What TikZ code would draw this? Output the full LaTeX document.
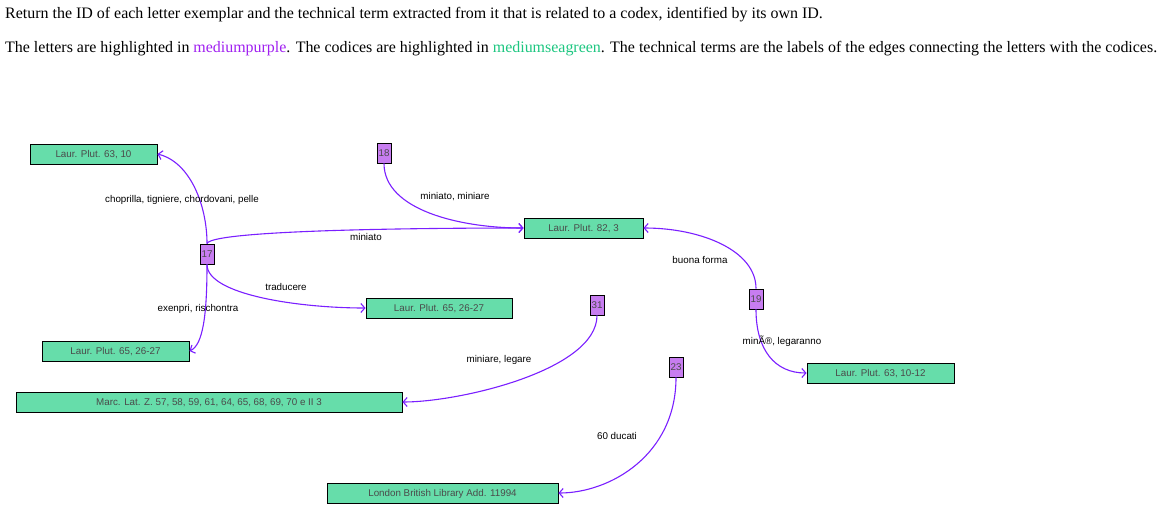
\documentclass[tikz,border=0pt]{standalone}
\usepackage{fontspec}
\setmainfont{Liberation Serif}
\newfontfamily\arial{Liberation Sans}
\usetikzlibrary{arrows.meta}
\definecolor{codexfill}{HTML}{66DDAA}
\definecolor{letterfill}{HTML}{C77DF0}
\definecolor{edgecol}{HTML}{7A1FFF}
\definecolor{purpletxt}{HTML}{A020F0}
\definecolor{greentxt}{HTML}{1CC680}
\definecolor{nodetxt}{HTML}{4A4A4A}
\begin{document}
\begin{tikzpicture}[x=1pt,y=-1pt,
  codex/.style={draw=black,line width=0.9pt,fill=codexfill,inner sep=0pt,minimum height=20pt,text height=7pt,text depth=0pt,text=nodetxt,font=\arial\fontsize{9.8}{11}\selectfont},
  letter/.style={draw=black,line width=0.9pt,fill=letterfill,inner sep=0pt,minimum width=14pt,minimum height=20pt,text height=7pt,text depth=0pt,text=nodetxt,font=\arial\fontsize{9.8}{11}\selectfont},
  elabel/.style={inner sep=0pt,font=\arial\fontsize{9.8}{11}\selectfont},
  edge/.style={draw=edgecol,line width=1.1pt,-{Straight Barb[length=4pt,width=9pt,line width=1.1pt]}},
  title/.style={anchor=base west,inner sep=0pt,font=\fontsize{15.95}{18}\selectfont}]
\useasboundingbox (0,0) rectangle (1162,520);
\node[title] (t1) at (5,18.5) {Return the ID of each letter exemplar and the technical term extracted from it that is related to a codex, identified by its own ID.};
\node[title] (t2) at (5,52) {The letters are highlighted in \textcolor{purpletxt}{mediumpurple}. The codices are highlighted in \textcolor{greentxt}{mediumseagreen}. The technical terms are the labels of the edges connecting the letters with the codices.};
% codices
\node[codex,minimum width=127pt] (c6310) at (93.5,154) {Laur. Plut. 63, 10};
\node[codex,minimum width=119pt] (c823) at (583.5,228) {Laur. Plut. 82, 3};
\node[codex,minimum width=146pt] (c65r) at (439,308) {Laur. Plut. 65, 26-27};
\node[codex,minimum width=147pt] (c65l) at (115.5,351) {Laur. Plut. 65, 26-27};
\node[codex,minimum width=147pt] (c631012) at (880.5,373) {Laur. Plut. 63, 10-12};
\node[codex,minimum width=386pt] (cmarc) at (209,402) {Marc. Lat. Z. 57, 58, 59, 61, 64, 65, 68, 69, 70 e II 3};
\node[codex,minimum width=231pt] (clon) at (442.5,493) {London British Library Add. 11994};
% letters
\node[letter] (n18) at (384,153) {18};
\node[letter] (n17) at (207,254) {17};
\node[letter] (n31) at (597,305) {31};
\node[letter] (n19) at (756,299) {19};
\node[letter] (n23) at (676,367) {23};
% edges
\draw[edge] (n17.north) .. controls (207,205) and (190,162) .. (c6310.east);
\draw[edge] (n17.north) .. controls (212,230) and (420,228) .. (c823.west);
\draw[edge] (n17.south) .. controls (207,295) and (300,308) .. (c65r.west);
\draw[edge] (n17.south) .. controls (207,315) and (203,345) .. (c65l.east);
\draw[edge] (n18.south) .. controls (384,210) and (460,228) .. (c823.west);
\draw[edge] (n19.north) .. controls (756,250) and (700,228) .. (c823.east);
\draw[edge] (n19.south) .. controls (756,350) and (775,373) .. (c631012.west);
\draw[edge] (n31.south) .. controls (597,370) and (460,402) .. (cmarc.east);
\draw[edge] (n23.south) .. controls (676,455) and (610,493) .. (clon.east);
% edge labels
\node[elabel] (l1) at (182,199.5) {choprilla, tigniere, chordovani, pelle};
\node[elabel] (l2) at (455,197) {miniato, miniare};
\node[elabel] (l3) at (366,237) {miniato};
\node[elabel] (l4) at (700,259.5) {buona forma};
\node[elabel] (l5) at (286,287) {traducere};
\node[elabel] (l6) at (198,308.5) {exenpri, rischontra};
\node[elabel] (l7) at (782,341.5) {minÃ®, legaranno};
\node[elabel] (l8) at (499,359.5) {miniare, legare};
\node[elabel] (l9) at (617,435.5) {60 ducati};
\end{tikzpicture}
\end{document}
